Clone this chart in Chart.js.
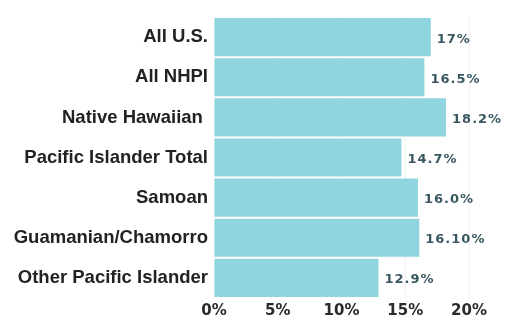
<!DOCTYPE html>
<html><head><meta charset="utf-8">
<script src="https://cdn.jsdelivr.net/npm/chart.js@4"></script>
<style>html,body{margin:0;padding:0;background:#fff}#w{width:508px;height:316px}</style>
</head><body><div id="w"><canvas id="c"></canvas></div>
<script>
const categories = ["All U.S.", "All NHPI", "Native Hawaiian ", "Pacific Islander Total", "Samoan", "Guamanian/Chamorro", "Other Pacific Islander"];
const values = [17, 16.5, 18.2, 14.7, 16.0, 16.1, 12.9];
const valueLabels = ["17%", "16.5%", "18.2%", "14.7%", "16.0%", "16.10%", "12.9%"];
const tickValues = [0, 5, 10, 15, 20];

const labelPlugin = {
  id: 'valLabels',
  afterDatasetsDraw(chart) {
    const ctx = chart.ctx;
    const meta = chart.getDatasetMeta(0);
    ctx.save();
    ctx.font = 'bold 13px "DejaVu Sans"';
    ctx.fillStyle = '#3a5862';
    ctx.textAlign = 'left';
    ctx.textBaseline = 'middle';
    try { ctx.letterSpacing = '1px'; } catch(e) {}
    meta.data.forEach((bar, i) => {
      ctx.fillText(valueLabels[i], bar.x + 6, bar.y + 2);
    });
    ctx.restore();
  }
};

new Chart(document.getElementById('c'), {
  type: 'bar',
  data: {
    labels: categories,
    datasets: [{
      data: values,
      backgroundColor: '#8fd5e0',
      borderWidth: 0,
      barPercentage: 0.95,
      categoryPercentage: 1.0
    }]
  },
  options: {
    indexAxis: 'y',
    responsive: true,
    maintainAspectRatio: false,
    animation: false,
    layout: { padding: { top: 17, right: 39, bottom: 0, left: 0 } },
    plugins: { legend: { display: false }, tooltip: { enabled: false } },
    scales: {
      x: {
        min: 0, max: 20,
        afterBuildTicks(s) { s.ticks = tickValues.map(v => ({ value: v })); },
        afterFit(s) { s.height = 18; },
        border: { display: false },
        grid: { color: '#f3f3f3', drawTicks: false },
        ticks: {
          padding: 4,
          color: '#2b2b2b',
          font: { family: 'DejaVu Sans', weight: 'bold', size: 15 },
          callback: v => v + '%'
        }
      },
      y: {
        afterFit(s) { s.width = 214; },
        border: { display: false },
        grid: { display: false, drawTicks: false },
        ticks: {
          padding: 6,
          color: '#222',
          font: { family: 'Liberation Sans', weight: 'bold', size: 18.5 }
        }
      }
    }
  },
  plugins: [labelPlugin]
});
</script></body></html>
